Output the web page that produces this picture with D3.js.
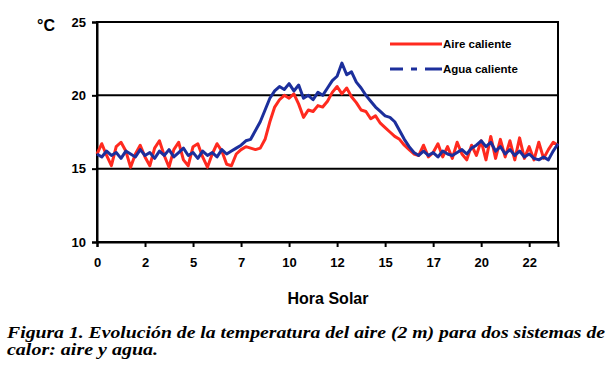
<!DOCTYPE html>
<html><head><meta charset="utf-8">
<script src="https://cdn.jsdelivr.net/npm/d3@7"></script>
<style>body{margin:0;background:#fff}svg{display:block}</style>
</head><body>
<script>
const seriesNames = ["Aire caliente", "Agua caliente"];
const seriesColors = ["#ff2a1f", "#1c2f9c"];
const hours = d3.range(0, 24.001, 0.25);
const aire = [16.0,16.7,15.9,15.2,16.5,16.8,16.2,15.1,16.0,16.6,15.8,15.2,16.4,16.9,15.9,15.1,
  16.3,16.8,15.6,15.2,16.5,16.7,15.8,15.1,16.0,16.7,16.2,15.3,15.2,16.0,16.3,16.5,
  16.4,16.3,16.4,17.0,18.2,19.2,19.7,20.0,19.8,20.1,19.4,18.5,19.0,18.9,19.3,19.2,
  19.6,20.2,20.6,20.1,20.5,19.9,19.5,19.0,18.9,18.4,18.6,18.1,17.8,17.5,17.2,17.0,
  16.6,16.3,16.0,15.9,16.6,15.8,16.1,16.7,15.8,16.5,15.7,16.8,16.0,15.6,16.6,15.9,
  16.9,15.6,17.2,15.7,17.0,15.8,16.9,15.6,17.1,15.7,16.5,15.6,16.8,15.7,16.3,16.8,16.6];
const agua = [16.0,15.8,16.2,15.9,16.1,15.7,16.2,16.0,15.8,16.3,15.9,16.1,15.7,16.2,15.9,16.3,
  15.8,16.1,16.4,15.9,16.1,15.7,16.2,15.9,16.1,15.8,16.3,16.0,16.2,16.4,16.6,16.9,
  17.0,17.6,18.2,19.0,19.8,20.3,20.6,20.4,20.8,20.3,20.7,19.8,20.0,19.7,20.2,20.0,
  20.5,21.0,21.3,22.2,21.4,21.6,20.9,20.5,20.0,19.6,19.2,18.9,18.6,18.5,18.2,17.6,
  17.0,16.5,16.1,15.9,16.2,15.9,16.1,15.8,16.2,16.0,15.9,16.1,16.3,16.0,16.4,16.6,
  16.9,16.5,16.8,16.2,16.5,16.0,16.3,15.9,16.2,15.8,16.0,15.7,15.6,15.8,15.6,16.2,16.7];
const xTickValues = [0, 2.5, 5, 7.5, 10, 12.5, 15, 17.5, 20, 22.5];
const xTickLabels = ["0","2","5","7","10","12","15","17","20","22"];
const yTicks = [10, 15, 20, 25];
const xTitle = "Hora Solar";
const yUnit = "°C";
const captionLines = ["Figura 1. Evolución de la temperatura del aire (2 m) para dos sistemas de",
                      "calor: aire y agua."];

const W = 609, H = 380;
const m = {left: 97, right: 51, top: 22, bottom: 138};
const svg = d3.select("body").append("svg").attr("width", W).attr("height", H);
const x = d3.scaleLinear().domain([0, 24]).range([m.left, W - m.right]);
const y = d3.scaleLinear().domain([10, 25]).range([H - m.bottom, m.top]);

svg.append("g").selectAll("line").data([15, 20]).join("line")
  .attr("x1", x(0)).attr("x2", x(24)).attr("y1", d => y(d)).attr("y2", d => y(d))
  .attr("stroke", "#000").attr("stroke-width", 2);

svg.append("rect").attr("x", x(0)).attr("y", y(25)).attr("width", x(24) - x(0)).attr("height", y(10) - y(25))
  .attr("fill", "none").attr("stroke", "#000").attr("stroke-width", 2);

const yAxis = svg.append("g").attr("transform", `translate(${x(0)},0)`)
  .call(d3.axisLeft(y).tickValues(yTicks).tickSize(5).tickPadding(6).tickFormat(d3.format("d")));
const xAxis = svg.append("g").attr("transform", `translate(0,${y(10)})`)
  .call(d3.axisBottom(x).tickValues(xTickValues).tickSize(5).tickPadding(11)
    .tickFormat((d, i) => xTickLabels[i]));
[yAxis, xAxis].forEach(g => {
  g.select(".domain").attr("stroke", "#000").attr("stroke-width", 2);
  g.selectAll(".tick line").attr("stroke", "#000").attr("stroke-width", 2);
  g.selectAll("text").attr("font-family", "Liberation Sans, Arial, sans-serif")
    .attr("font-weight", "bold").attr("font-size", 13).attr("fill", "#000");
});

const line = d3.line().x((d, i) => x(hours[i])).y(d => y(d));
[aire, agua].forEach((s, k) => {
  svg.append("path").datum(s).attr("d", line).attr("fill", "none")
    .attr("stroke", seriesColors[k]).attr("stroke-width", 3).attr("stroke-linejoin", "round");
});

const lg = svg.append("g");
[0, 1].forEach(k => {
  const ly = k === 0 ? 44 : 69;
  lg.append("line").attr("x1", 390).attr("x2", 442).attr("y1", ly).attr("y2", ly)
    .attr("stroke", seriesColors[k]).attr("stroke-width", 3)
    .attr("stroke-dasharray", k === 1 ? "13,8,6,8,6,0" : null);
  lg.append("text").attr("x", 443).attr("y", ly + 4).text(seriesNames[k])
    .attr("font-family", "Liberation Sans, Arial, sans-serif").attr("font-weight", "bold")
    .attr("font-size", 11.5).attr("fill", "#000");
});

svg.append("text").attr("x", 328).attr("y", 304).attr("text-anchor", "middle").text(xTitle)
  .attr("font-family", "Liberation Sans, Arial, sans-serif").attr("font-weight", "bold").attr("font-size", 16);
svg.append("text").attr("x", 37).attr("y", 31).text(yUnit)
  .attr("font-family", "Liberation Sans, Arial, sans-serif").attr("font-weight", "bold").attr("font-size", 16);

svg.append("text").attr("x", 7).attr("y", 338).text(captionLines[0])
  .attr("textLength", 598).attr("lengthAdjust", "spacingAndGlyphs")
  .attr("font-family", "Liberation Serif, Times New Roman, serif").attr("font-weight", "bold")
  .attr("font-style", "italic").attr("font-size", 16);
svg.append("text").attr("x", 7).attr("y", 355).text(captionLines[1])
  .attr("textLength", 151).attr("lengthAdjust", "spacingAndGlyphs")
  .attr("font-family", "Liberation Serif, Times New Roman, serif").attr("font-weight", "bold")
  .attr("font-style", "italic").attr("font-size", 16);
</script>
</body></html>
